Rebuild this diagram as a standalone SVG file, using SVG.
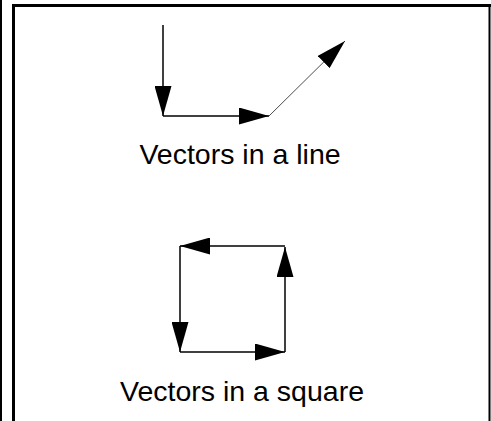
<svg xmlns="http://www.w3.org/2000/svg" width="491" height="421" viewBox="0 0 491 421">
<defs>
<style>
.frame{fill:none;stroke:#000}
.vec{fill:none;stroke:#000;stroke-width:1.5}
.thin{fill:none;stroke:#000;stroke-width:0.7}
.lbl{font-family:"Liberation Sans",Arial,sans-serif;font-size:28.5px;fill:#000;text-anchor:middle}
</style>
<marker id="ah" viewBox="0 0 30 17" refX="30" refY="8.5" markerWidth="30" markerHeight="17" markerUnits="userSpaceOnUse" orient="auto">
<path d="M0,0 L30,8.5 L0,17 z" fill="#000"/>
</marker>
</defs>
<rect width="491" height="421" fill="#fff"/>
<g id="frame">
<line class="frame" x1="1" y1="0" x2="1" y2="421" stroke-width="2"/>
<path class="frame" d="M13.5,421 V5.5 H491" stroke-width="3"/>
<line class="frame" x1="489.5" y1="5" x2="489.5" y2="421" stroke-width="2"/>
</g>
<g id="connectors">
<g id="line-vectors">
<line class="vec" x1="163" y1="25" x2="163" y2="116" marker-end="url(#ah)"/>
<line class="vec" x1="163" y1="116" x2="269" y2="116" marker-end="url(#ah)"/>
<line class="thin" x1="269" y1="116" x2="345" y2="41" marker-end="url(#ah)"/>
</g>
<g id="square-vectors">
<line class="vec" x1="285" y1="246" x2="180" y2="246" marker-end="url(#ah)"/>
<line class="vec" x1="180" y1="246" x2="180" y2="352" marker-end="url(#ah)"/>
<line class="vec" x1="180" y1="352" x2="285" y2="352" marker-end="url(#ah)"/>
<line class="vec" x1="285" y1="352" x2="285" y2="247" marker-end="url(#ah)"/>
</g>
</g>
<g id="label-line"><text class="lbl" x="240" y="164">Vectors in a line</text></g>
<g id="label-square"><text class="lbl" x="242" y="401">Vectors in a square</text></g>
</svg>
